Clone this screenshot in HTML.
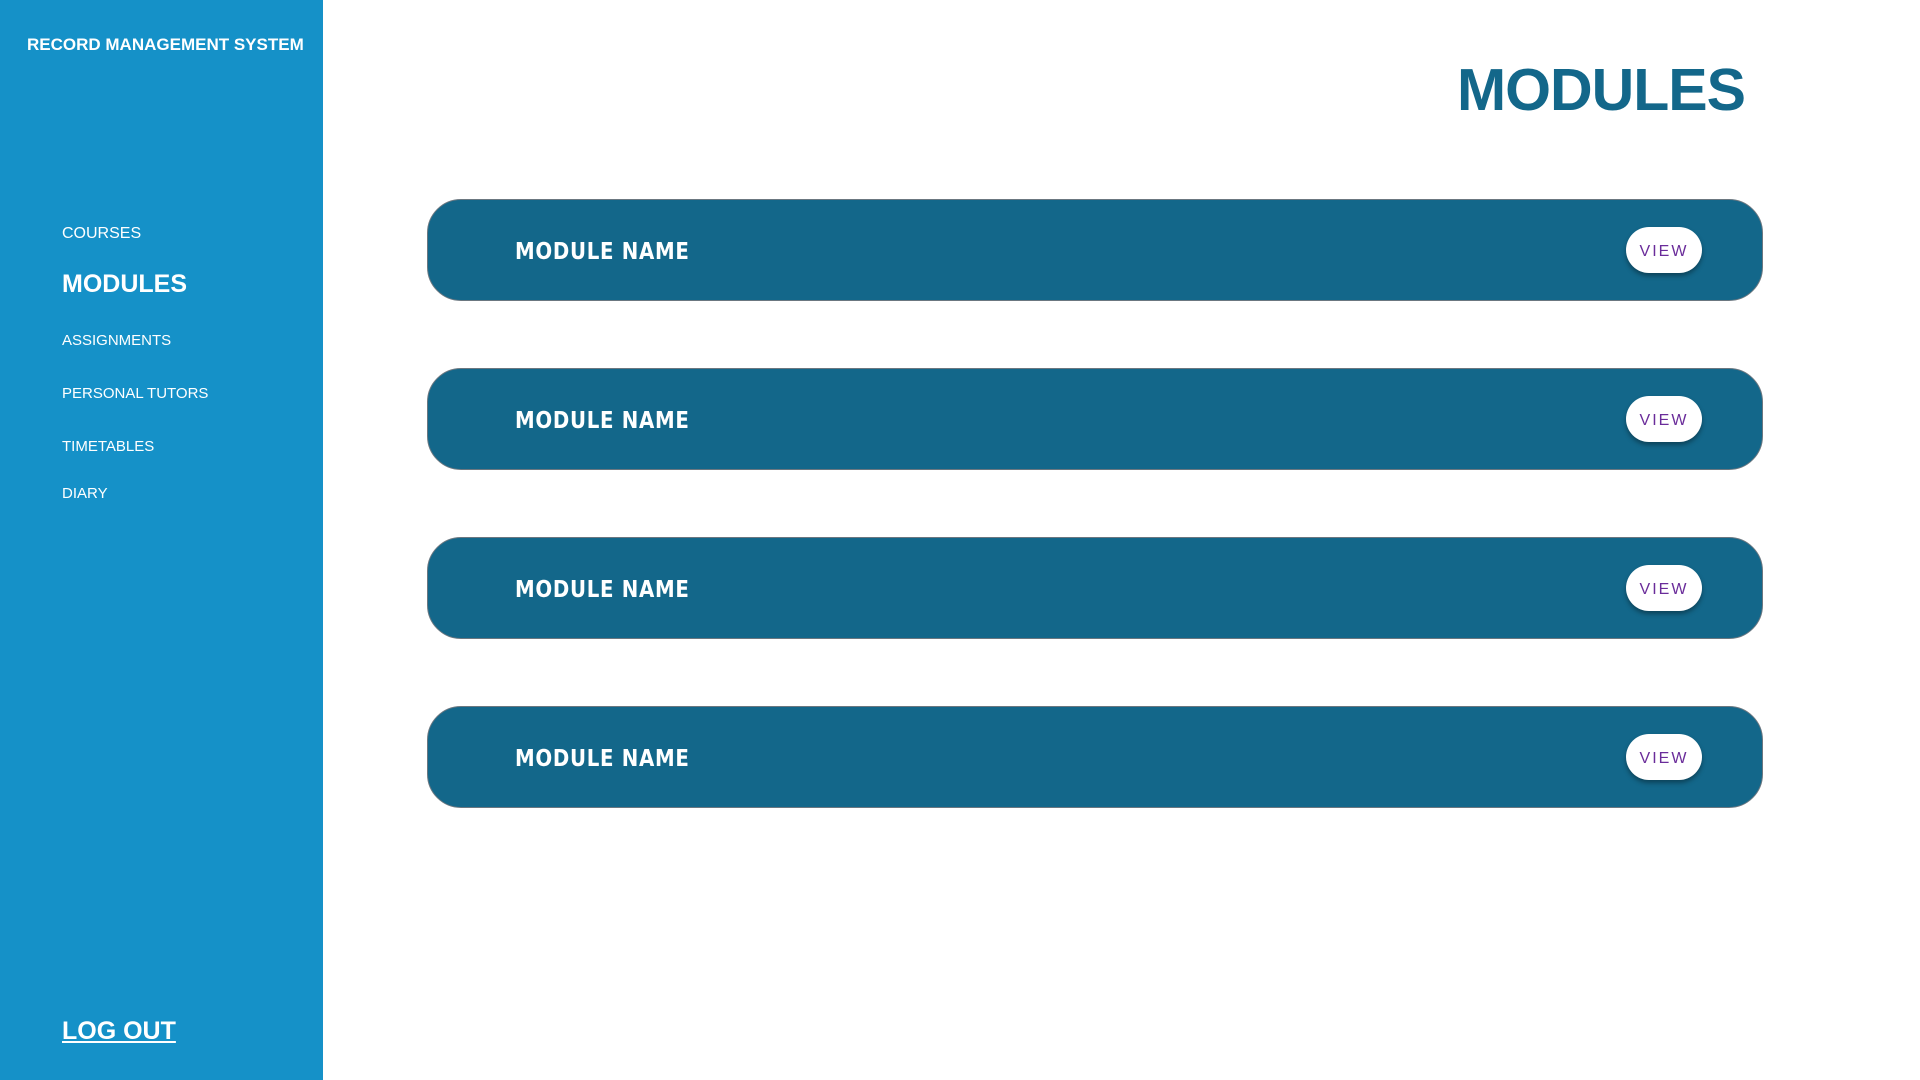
<!DOCTYPE html>
<html><head><meta charset="utf-8"><style>
*{margin:0;padding:0;box-sizing:border-box}
body{width:1920px;height:1080px;position:relative;background:#fff;font-family:"Liberation Sans",sans-serif;overflow:hidden}
#side{position:absolute;left:0;top:0;width:323px;height:1080px;background:#1591c8}
.t{position:absolute;color:#fff;white-space:nowrap}
.nav{font-size:15px;line-height:20px;left:62px}
h1{position:absolute;left:1457px;top:54px;font-size:59px;color:#13678a;font-weight:bold;font-family:"Liberation Sans",sans-serif;line-height:72px;letter-spacing:-1px}
.card{position:absolute;left:427px;width:1336px;height:102px;background:#13678a;border:1px solid #6b7780;border-radius:34px}
.card span{position:absolute;left:87px;top:38px;font-size:23px;line-height:28px;font-weight:bold;color:#fff;letter-spacing:0.8px;font-family:"DejaVu Sans",sans-serif;transform:scaleX(0.86);transform-origin:left}
.view{position:absolute;left:1198px;top:27px;width:76px;height:46px;border-radius:23px;background:#fff;box-shadow:0 3px 5px rgba(0,0,0,.35);color:#6a2c9a;font-size:16px;letter-spacing:2px;text-align:center;line-height:50px}
</style></head><body>
<div id="side">
<div class="t" style="left:27px;top:35px;font-size:17px;font-weight:bold">RECORD MANAGEMENT SYSTEM</div>
<div class="t nav" style="top:224px;font-size:16px">COURSES</div>
<div class="t nav" style="top:268px;font-size:25px;line-height:32px;font-weight:bold">MODULES</div>
<div class="t nav" style="top:331px">ASSIGNMENTS</div>
<div class="t nav" style="top:384px">PERSONAL TUTORS</div>
<div class="t nav" style="top:437px">TIMETABLES</div>
<div class="t nav" style="top:484px">DIARY</div>
<div class="t" style="left:62px;top:1017px;font-size:25px;font-weight:bold;text-decoration:underline">LOG OUT</div>
</div>
<h1>MODULES</h1>
<div class="card" style="top:199px"><span>MODULE NAME</span><div class="view">VIEW</div></div>
<div class="card" style="top:368px"><span>MODULE NAME</span><div class="view">VIEW</div></div>
<div class="card" style="top:537px"><span>MODULE NAME</span><div class="view">VIEW</div></div>
<div class="card" style="top:706px"><span>MODULE NAME</span><div class="view">VIEW</div></div>
</body></html>
